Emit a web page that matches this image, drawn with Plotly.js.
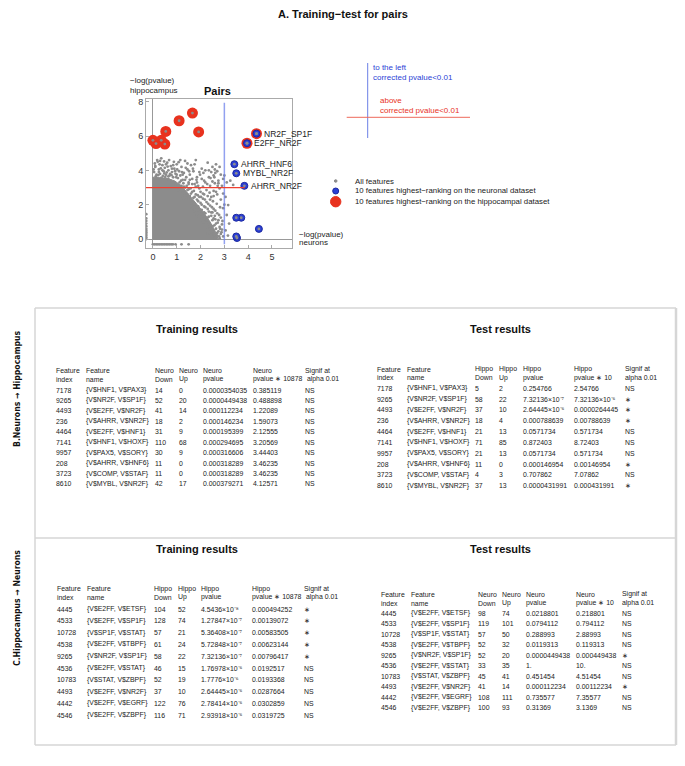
<!DOCTYPE html>
<html><head><meta charset="utf-8">
<script src="https://cdn.plot.ly/plotly-3.0.1.min.js"></script>
<style>body{margin:0;background:#fff}</style>
</head><body><div id="chart" style="width:685px;height:766px"></div>
<script>
// ---------- scatter data ----------
const coreX = [0, 0, 0.5, 0.9, 1.2, 1.5, 1.8, 2.1, 2.4, 2.6, 2.75];
const coreY = [-0.05, 3.6, 3.55, 3.4, 3.1, 2.6, 2.1, 1.6, 1.0, 0.5, -0.05];
const allX = [0.05,0.1,0.15,0.2,0.25,0.3,0.35,0.4,0.45,0.5,0.55,0.6,0.65,0.7,0.75,0.8,0.85,0.9,0.95,1.0,1.05,1.1,1.15,1.2,1.25,1.3,1.35,1.4,1.45,1.5,1.55,1.6,1.65,1.7,1.75,1.8,1.85,1.9,0.12,0.28,0.42,0.58,0.22,0.08,0.68,0.88,1.02,1.18,0.36,0.52,
 1.0,1.1,1.2,1.3,1.25,1.35,1.4,1.45,1.5,1.55,1.6,1.65,1.7,1.75,1.8,1.85,1.9,1.95,2.0,2.05,2.1,2.15,2.2,2.25,2.3,2.35,2.4,2.45,2.5,2.55,2.6,2.65,2.7,2.75,2.8,2.85,2.9,2.75,2.85,2.9,2.7,2.8,2.65,2.6,2.55,2.5,2.45,2.4,2.35,2.3,2.25,2.2,2.15,2.1,2.05,2.0,1.95,1.9,1.85,1.8,1.75,1.7,1.65,1.6,1.55,1.5,1.45,1.4,1.35,1.3,1.15,1.05,0.95,0.85,0.75,0.65,2.95,2.3,2.15,2.0,
 2.2,2.35,2.45,2.5,2.55,2.6,2.65,2.7,2.75,2.8,2.85,2.4,2.6,2.9,2.95,3.1,3.25,3.37,2.05,2.1,2.55,2.7,2.85,3.0,3.16,3.1,2.95,2.45,2.2,1.95,2.3,3.05,3.15,3.2,
 0.03,0.18,0.33,0.47,0.62,0.78,0.93,1.08,1.22,1.38,1.52,1.68,1.83,1.98,2.12,2.28,2.42,2.58,2.72,1.12,1.28,1.42,1.58,1.72,1.88,2.02,2.18,2.32,2.48,2.62,2.78,2.92,2.52,2.68,2.82,2.38,2.25,2.1,1.95,1.8,1.65,1.35,0.98,0.72,0.48,0.25,
 2.72,2.62,2.58,2.82,2.7,2.88,2.6,2.78,2.45,2.35,2.2,2.05,1.9,1.75,1.6,1.45,1.3,1.5,2.4,2.55,2.65,2.8,2.95,3.05,2.3,2.15,2.5,2.55,2.4,2.5,2.65,
 0.1,0.3,0.55,0.85,1.15,1.45,1.75,2.05,2.35,2.62,0.4,0.65,0.8,1.0,1.25,1.55,1.85,2.15,2.5,2.75,3.0,
 -0.28,-0.28,-0.28,-0.28,-0.28,-0.28,-0.28,-0.28,-0.28,-0.28,-0.28,-0.28,
 0,0.07,0.14,0.21,0.28,0.35,0.42,0.49,0.56,0.63,0.7,0.77,0.84,0.95,1.2,1.5];
const allY = [3.9,4.2,3.75,4.5,4.05,3.8,4.7,4.3,3.95,4.15,3.75,4.45,4.0,3.7,4.25,3.9,3.6,4.1,3.8,4.35,3.55,3.95,3.7,4.2,3.45,3.85,4.55,3.6,4.05,3.3,3.75,4.3,3.5,3.95,3.2,4.6,3.6,3.1,3.65,4.35,3.68,3.88,3.72,4.4,4.6,4.5,4.05,3.4,3.58,3.62,
 3.05,2.9,3.1,2.8,2.5,3.0,2.65,2.35,2.9,2.5,2.2,2.75,2.4,2.05,2.6,2.3,1.9,2.45,2.1,1.7,2.35,1.9,1.5,2.15,1.75,1.3,1.95,1.55,1.1,1.75,1.35,0.9,1.5,1.1,0.7,1.25,0.85,0.45,0.3,0.55,0.2,0.05,0.6,0.15,0.45,0.75,0.25,0.6,0.95,0.35,1.1,0.65,1.3,0.95,1.45,1.6,1.25,1.7,1.45,1.85,1.6,2.0,1.8,2.1,2.2,2.45,2.6,2.4,2.7,2.35,2.75,2.85,3.2,3.3,3.4,3.5,0.15,2.5,2.6,2.75,
 3.3,3.6,3.9,4.2,3.7,4.05,4.35,3.95,3.4,4.2,3.75,3.1,3.25,3.1,3.5,3.3,3.4,3.15,3.5,3.05,2.8,2.6,2.3,2.0,1.98,1.4,1.8,2.45,4.0,3.9,4.45,0.5,0.2,0.9,
 4.05,4.6,4.12,4.52,4.22,3.72,3.95,4.48,3.9,4.15,3.95,4.1,3.45,3.75,3.85,3.2,3.55,3.6,3.1,3.3,3.25,3.1,2.95,2.8,2.55,2.45,2.3,2.05,1.85,1.65,1.4,1.05,2.2,2.05,1.85,2.7,2.85,2.65,2.95,3.05,3.2,3.45,3.6,3.8,3.82,3.9,
 0.95,1.15,0.8,0.6,0.35,0.4,0.05,0.15,1.35,1.6,1.85,2.0,2.2,2.45,2.65,2.85,3.05,3.2,2.3,2.5,2.75,2.95,2.65,2.45,1.25,1.55,1.55,1.2,0.8,0.55,0.3,
 4.25,4.55,4.35,4.3,4.6,4.4,4.35,4.1,4.0,3.85,4.0,3.65,4.1,3.75,3.75,3.45,3.3,3.4,3.35,3.25,3.7,
 1.45,1.2,1.05,0.9,0.75,0.6,0.5,0.4,0.3,0.2,0.1,0.0,
 -0.31,-0.31,-0.31,-0.31,-0.31,-0.31,-0.31,-0.31,-0.31,-0.31,-0.31,-0.31,-0.31,-0.31,-0.31,-0.31];
const redX = [1.66, 1.10, 0.54, 1.92, 4.35, 0.00, 0.35, 3.95, 0.13, 0.50];
const redY = [7.34, 6.89, 6.27, 6.24, 6.14, 5.75, 5.75, 5.58, 5.56, 5.53];
const blueX = [4.45, 4.35, 3.95, 3.84, 3.71, 3.53, 3.50, 3.50, 3.50, 3.42];
const blueY = [0.59, 6.14, 5.58, 3.10, 1.24, 0.06, 1.24, 3.83, 0.15, 4.36];
const pointLabels = ["NR2F_SP1F", "E2FF_NR2F", "AHRR_HNF6", "MYBL_NR2F", "AHRR_NR2F"];
const labelX = [4.35, 3.95, 3.42, 3.50, 3.84];
const labelY = [6.14, 5.58, 4.36, 3.83, 3.10];
const xTicks = [0, 1, 2, 3, 4, 5];
const yTicks = [0, 2, 4, 6, 8];
const legendTexts = ["All features", "10 features highest\u2212ranking on the neuronal dataset", "10 features highest\u2212ranking on the hippocampal dataset"];

// ---------- table data ----------
const S = "\u2217";
const bTrainHead1 = ["Feature", "Feature", "Neuro", "Neuro", "Neuro", "Neuro", "Signif at"];
const bTrainHead2 = ["index", "name", "Down", "Up", "pvalue", "pvalue \u2217 10878", " alpha 0.01"];
const bIndex = ["7178", "9265", "4493", "236", "4464", "7141", "9957", "208", "3723", "8610"];
const bName = ["{V$HNF1, V$PAX3}", "{V$NR2F, V$SP1F}", "{V$E2FF, V$NR2F}", "{V$AHRR, V$NR2F}", "{V$E2FF, V$HNF1}", "{V$HNF1, V$HOXF}", "{V$PAX5, V$SORY}", "{V$AHRR, V$HNF6}", "{V$COMP, V$STAF}", "{V$MYBL, V$NR2F}"];
const bTrainDown = ["14", "52", "41", "18", "31", "110", "30", "11", "11", "42"];
const bTrainUp = ["0", "20", "14", "2", "9", "68", "9", "0", "0", "17"];
const bTrainP = ["0.0000354035", "0.0000449438", "0.000112234", "0.000146234", "0.000195399", "0.000294695", "0.000316606", "0.000318289", "0.000318289", "0.000379271"];
const bTrainPc = ["0.385119", "0.488898", "1.22089", "1.59073", "2.12555", "3.20569", "3.44403", "3.46235", "3.46235", "4.12571"];
const bTrainSig = ["NS", "NS", "NS", "NS", "NS", "NS", "NS", "NS", "NS", "NS"];
const bTestHead1 = ["Feature", "Feature", "Hippo", "Hippo", "Hippo", "Hippo", "Signif at"];
const bTestHead2 = ["index", "name", "Down", "Up", "pvalue", "pvalue \u2217 10", "alpha 0.01"];
const bTestDown = ["5", "58", "37", "18", "21", "71", "21", "11", "4", "37"];
const bTestUp = ["2", "22", "10", "4", "13", "85", "13", "0", "3", "13"];
const bTestP = ["0.254766", "7.32136\u00d710\u207b\u2077", "2.64445\u00d710\u207b\u2076", "0.000788639", "0.0571734", "0.872403", "0.0571734", "0.000146954", "0.707862", "0.0000431991"];
const bTestPc = ["2.54766", "7.32136\u00d710\u207b\u2076", "0.0000264445", "0.00788639", "0.571734", "8.72403", "0.571734", "0.00146954", "7.07862", "0.000431991"];
const bTestSig = ["NS", S, S, S, "NS", "NS", "NS", S, "NS", S];

const cTrainHead1 = ["Feature", "Feature", "Hippo", "Hippo", "Hippo", "Hippo", "Signif at"];
const cTrainHead2 = ["index", "name", "Down", "Up", "pvalue", "pvalue \u2217 10878", " alpha 0.01"];
const cIndex = ["4445", "4533", "10728", "4538", "9265", "4536", "10783", "4493", "4442", "4546"];
const cName = ["{V$E2FF, V$ETSF}", "{V$E2FF, V$SP1F}", "{V$SP1F, V$STAT}", "{V$E2FF, V$TBPF}", "{V$NR2F, V$SP1F}", "{V$E2FF, V$STAT}", "{V$STAT, V$ZBPF}", "{V$E2FF, V$NR2F}", "{V$E2FF, V$EGRF}", "{V$E2FF, V$ZBPF}"];
const cTrainDown = ["104", "128", "57", "61", "58", "46", "52", "37", "122", "116"];
const cTrainUp = ["52", "74", "21", "24", "22", "15", "19", "10", "76", "71"];
const cTrainP = ["4.5436\u00d710\u207b\u2078", "1.27847\u00d710\u207b\u2077", "5.36408\u00d710\u207b\u2077", "5.72848\u00d710\u207b\u2077", "7.32136\u00d710\u207b\u2077", "1.76978\u00d710\u207b\u2076", "1.7776\u00d710\u207b\u2076", "2.64445\u00d710\u207b\u2076", "2.78414\u00d710\u207b\u2076", "2.93918\u00d710\u207b\u2076"];
const cTrainPc = ["0.000494252", "0.00139072", "0.00583505", "0.00623144", "0.00796417", "0.0192517", "0.0193368", "0.0287664", "0.0302859", "0.0319725"];
const cTrainSig = [S, S, S, S, S, "NS", "NS", "NS", "NS", "NS"];
const cTestHead1 = ["Feature", "Feature", "Neuro", "Neuro", "Neuro", "Neuro", "Signif at"];
const cTestHead2 = ["index", "name", "Down", "Up", "pvalue", "pvalue \u2217 10", "alpha 0.01"];
const cTestDown = ["98", "119", "57", "52", "52", "33", "45", "41", "108", "100"];
const cTestUp = ["74", "101", "50", "32", "20", "35", "41", "14", "111", "93"];
const cTestP = ["0.0218801", "0.0794112", "0.288993", "0.0119313", "0.0000449438", "1.", "0.451454", "0.000112234", "0.735577", "0.31369"];
const cTestPc = ["0.218801", "0.794112", "2.88993", "0.119313", "0.000449438", "10.", "4.51454", "0.00112234", "7.35577", "3.1369"];
const cTestSig = ["NS", "NS", "NS", "NS", S, "NS", "NS", S, "NS", "NS"];

// ---------- layout helpers ----------
const W = 685, H = 766;
const px = x => x / W, py = y => 1 - y / H;
const FONT = "Liberation Sans, Arial, Helvetica, sans-serif";
const NARROW = "Liberation Sans Narrow, DejaVu Sans Condensed, Arial Narrow, sans-serif";
const ann = [];
function txt(x, y, t, o) {
  o = o || {};
  ann.push({xref: "paper", yref: "paper", x: px(x), y: py(y), text: t, showarrow: false,
    xanchor: o.xa || "left", yanchor: "middle", textangle: o.angle || 0,
    font: {family: o.family || FONT, size: o.size || 6.9, color: o.color || "#222"}, borderpad: 0});
}

function table(colX, head1, head2, hy1, hy2, cols, row0, dy) {
  for (let c = 0; c < colX.length; c++) {
    txt(colX[c], hy1, head1[c]);
    txt(colX[c], hy2, head2[c]);
    for (let r = 0; r < cols[c].length; r++) txt(colX[c], row0 + r * dy, cols[c][r]);
  }
}

table([55, 85, 153.5, 178, 202, 252, 304], bTrainHead1, bTrainHead2, 370.7, 379.3,
  [bIndex, bName, bTrainDown, bTrainUp, bTrainP, bTrainPc, bTrainSig], 390, 10.44);
table([376, 405.7, 474.3, 498.3, 522.3, 572.7, 624.3], bTestHead1, bTestHead2, 369, 377.7,
  [bIndex, bName, bTestDown, bTestUp, bTestP, bTestPc, bTestSig], 388.3, 10.82);
table([56, 86, 153, 176.7, 200.3, 251.3, 303.3], cTrainHead1, cTrainHead2, 588.7, 597.3,
  [cIndex, cName, cTrainDown, cTrainUp, cTrainP, cTrainPc, cTrainSig], 609, 11.8);
table([380, 410, 476.7, 501.3, 525, 575, 620.7], cTestHead1, cTestHead2, 594.3, 603,
  [cIndex, cName, cTestDown, cTestUp, cTestP, cTestPc, cTestSig], 613.3, 10.5);

txt(197, 329, "<b>Training results</b>", {xa: "center", size: 11, color: "#111"});
txt(500, 329, "<b>Test results</b>", {xa: "center", size: 11, color: "#111"});
txt(197, 549, "<b>Training results</b>", {xa: "center", size: 11, color: "#111"});
txt(500, 549, "<b>Test results</b>", {xa: "center", size: 11, color: "#111"});
txt(17, 389, "<b>B.Neurons \u2192 Hippocampus</b>", {xa: "center", size: 8.6, angle: -90, color: "#111", family: NARROW});
txt(17, 608, "<b>C.Hippocampus \u2192 Neurons</b>", {xa: "center", size: 8.6, angle: -90, color: "#111", family: NARROW});

// top title & plot texts
txt(343, 14, "<b>A. Training\u2212test for pairs</b>", {xa: "center", size: 11, color: "#111"});
txt(217, 91, "<b>Pairs</b>", {xa: "center", size: 11, color: "#111"});
txt(129, 80.7, "\u2212log(pvalue)", {size: 8});
txt(129, 90.7, "hippocampus", {size: 8});
txt(298, 234, "\u2212log(pvalue)", {size: 8});
txt(298, 242.7, "neurons", {size: 8});
txt(371.7, 67.7, "to the left", {size: 8, color: "#2b3fd6"});
txt(371.7, 77.7, "corrected pvalue&lt;0.01", {size: 8, color: "#2b3fd6"});
txt(379.3, 100.7, "above", {size: 8, color: "#e8321e"});
txt(379.3, 110.7, "corrected pvalue&lt;0.01", {size: 8, color: "#e8321e"});
txt(354, 181, legendTexts[0], {size: 7.8});
txt(354, 191, legendTexts[1], {size: 7.8});
txt(354, 201.7, legendTexts[2], {size: 7.8});

for (let i = 0; i < pointLabels.length; i++) {
  ann.push({xref: "x", yref: "y", x: labelX[i], y: labelY[i], text: pointLabels[i], showarrow: false,
    xanchor: "left", yanchor: "middle", xshift: 6, borderpad: 0,
    font: {family: FONT, size: 8.5, color: "#222"}});
}

const shapes = [];
function line(x0, y0, x1, y1, color, w) {
  shapes.push({type: "line", xref: "paper", yref: "paper", x0: px(x0), y0: py(y0), x1: px(x1), y1: py(y1),
    line: {color: color, width: w || 1}});
}
// panel boxes
line(35, 308, 676, 308, "#d6d6d6", 1.5);
line(35, 308, 35, 745, "#d6d6d6", 1.5);
line(35, 745, 676, 745, "#d6d6d6", 1.5);
line(676, 308, 676, 745, "#d6d6d6", 2.5);
line(35, 538, 676, 538, "#d6d6d6", 1.5);
// annotation guide lines
line(367.7, 63, 367.7, 138, "#6b7fe6", 1);
line(346.7, 117.3, 470, 117.3, "#ee6a5a", 1);
// legend symbols
function circ(cx, cy, r, fill, lc) {
  shapes.push({type: "circle", xref: "paper", yref: "paper", x0: px(cx - r), x1: px(cx + r), y0: py(cy + r), y1: py(cy - r),
    fillcolor: fill, line: {color: lc || fill, width: 1}});
}
circ(335.7, 181, 1.3, "#8c8c8c");
circ(335.7, 191, 3, "#2b3fd6", "#1d2aa0");
circ(335.7, 201.7, 5.2, "#e8321e");
// threshold lines inside plot
shapes.push({type: "line", xref: "x", yref: "y", x0: 3, x1: 3, y0: -0.3, y1: 7.94, line: {color: "rgba(110,130,235,0.75)", width: 1.5}});
shapes.push({type: "line", xref: "x", yref: "y", x0: -0.29, x1: 3.85, y0: 3.0, y1: 3.0, line: {color: "#f04030", width: 1.2}});

const traces = [
  {x: coreX, y: coreY, type: "scatter", mode: "lines", fill: "toself", fillcolor: "#8c8c8c",
    line: {color: "#8c8c8c", width: 1}, hoverinfo: "skip"},
  {x: redX, y: redY, type: "scatter", mode: "markers", marker: {size: 11, color: "#e8321e", line: {width: 0}}},
  {x: blueX, y: blueY, type: "scatter", mode: "markers", marker: {size: 7, color: "#2b3fd6", line: {width: 1, color: "#1d2aa0"}}},
  {x: allX.concat(redX, blueX), y: allY.concat(redY, blueY), type: "scatter", mode: "markers",
    marker: {size: 2.8, color: "#8c8c8c"}}
];

const axBase = {showgrid: false, zeroline: true, zerolinecolor: "#999", zerolinewidth: 1,
  showline: true, mirror: true, linecolor: "#aaa", linewidth: 1, ticks: "inside", ticklen: 3, tickcolor: "#aaa",
  tickfont: {family: FONT, size: 9, color: "#333"}, fixedrange: true};

const layout = {
  width: W, height: H, margin: {l: 0, r: 0, t: 0, b: 0}, showlegend: false,
  paper_bgcolor: "#fff", plot_bgcolor: "#fff",
  xaxis: Object.assign({}, axBase, {domain: [146 / W, 292 / W], range: [-0.29, 5.84], tickvals: xTicks}),
  yaxis: Object.assign({}, axBase, {domain: [1 - 248.3 / H, 1 - 99.3 / H], range: [-0.54, 8.14], tickvals: yTicks}),
  annotations: ann, shapes: shapes
};

Plotly.newPlot("chart", traces, layout, {staticPlot: true});
</script></body></html>
